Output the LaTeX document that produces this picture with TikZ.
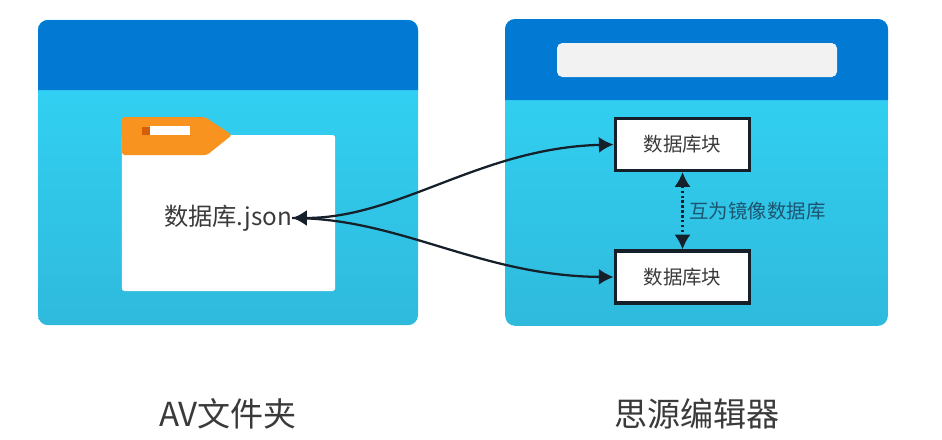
\documentclass[tikz,border=0pt]{standalone}
\usepackage{fontspec}
\setmainfont{Noto Sans CJK SC}
\usetikzlibrary{arrows.meta}
\definecolor{barblue}{HTML}{0279D3}
\definecolor{skytop}{HTML}{32D6F8}
\definecolor{skybottom}{HTML}{2FBADC}
\definecolor{taborange}{HTML}{F7931E}
\definecolor{tabdark}{HTML}{D35F0A}
\definecolor{inktext}{HTML}{3A3A3A}
\definecolor{noteblue}{HTML}{1D5570}
\definecolor{arrowink}{HTML}{16202A}
\tikzset{
    panel/.style={rounded corners=7.5pt, top color=skytop, middle color=skytop, bottom color=skybottom, inner sep=0pt},
    dbblock/.style={draw=arrowink, line width=2.4pt, fill=white, minimum width=101pt, minimum height=39pt, inner sep=0pt, text=inktext, font=\fontsize{14.6pt}{16pt}\selectfont},
    oneway/.style={arrowink, line width=1.7pt, -{Latex[length=11pt,width=12pt]}},
    bothway/.style={arrowink, line width=1.7pt, {Latex[length=11pt,width=12pt]}-{Latex[length=11pt,width=12pt]}},
    caption/.style={text=inktext, font=\fontsize{24.8pt}{28pt}\selectfont}
}
\begin{document}
\begin{tikzpicture}[x=0.75pt,y=-0.75pt]
    \useasboundingbox (0,0) rectangle (942,439);

    % Left window
    \node[panel, minimum width=285pt, minimum height=229pt] (avpanel) at (228,172.5) {};
    \fill[barblue] [sharp corners] (38,90) [rounded corners=7.5pt] -- (38,20) -- (418,20) [sharp corners] -- (418,90) -- cycle;

    % Folder
    \node[fill=white, rounded corners=2pt, minimum width=160pt, minimum height=117pt, inner sep=0pt] (folder) at (228.5,213) {};
    \fill[taborange] [rounded corners=2pt] (122,155) -- (122,117) -- (205,117) -- (232,135) -- (207,155) -- cycle;
    \fill[tabdark] (142,127) rectangle (150,135);
    \fill[white] (150,126) rectangle (190,135);
    \node[text=inktext, font=\fontsize{18.2pt}{20pt}\selectfont, inner sep=0pt] (dbfile) at (228,218) {数据库.json};

    % Right window
    \node[panel, minimum width=287pt, minimum height=230pt] (sypanel) at (696.5,172.5) {};
    \fill[barblue] [sharp corners] (505,100) [rounded corners=7.5pt] -- (505,19) -- (888,19) [sharp corners] -- (888,100) -- cycle;
    \node[fill=black!5, rounded corners=4pt, minimum width=210pt, minimum height=25.5pt, inner sep=0pt] (searchbar) at (697,60) {};

    % Database blocks
    \node[dbblock] (blocktop) at (682.5,144.5) {数据库块};
    \node[dbblock] (blockbottom) at (682.5,277) {数据库块};

    % Links
    \draw[bothway, dotted] (blocktop) -- (blockbottom);
    \node[text=noteblue, font=\fontsize{14.6pt}{16pt}\selectfont, inner sep=0pt] (mirrornote) at (757.5,211.5) {互为镜像数据库};
    \draw[bothway] (dbfile.east) .. controls (400,218) and (480,148) .. (blocktop.west);
    \draw[oneway] (dbfile.east) .. controls (400,218) and (480,276) .. (blockbottom.west);

    % Captions
    \node[caption] (avcaption) at (228,414) {AV文件夹};
    \node[caption] (sycaption) at (697,414) {思源编辑器};
\end{tikzpicture}
\end{document}
